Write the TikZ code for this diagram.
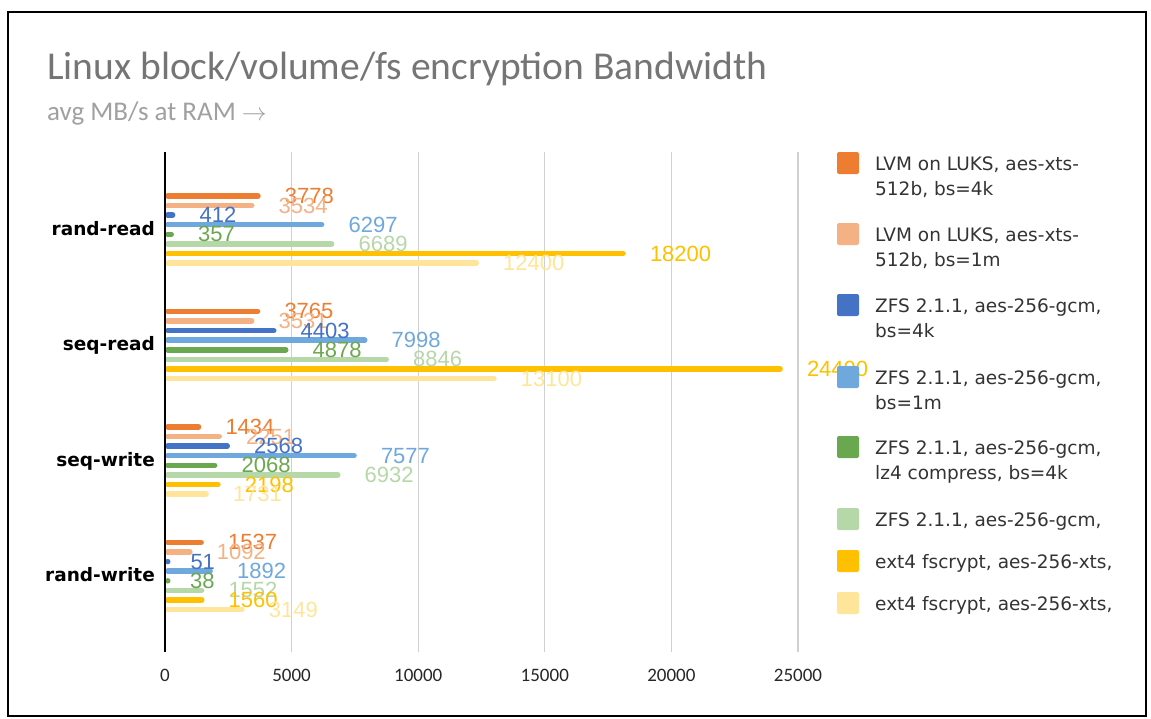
\documentclass[tikz,border=0pt]{standalone}
\usepackage{fontspec}
\setmainfont{Carlito}
\newfontfamily\legendfont{DejaVu Sans}
\newfontfamily\valfont{Liberation Sans}
\usetikzlibrary{positioning}
\usepackage{xcolor}
\definecolor{ser0}{HTML}{ED7D31}
\definecolor{ser1}{HTML}{F4B183}
\definecolor{ser2}{HTML}{4472C4}
\definecolor{ser3}{HTML}{6FA8DC}
\definecolor{ser4}{HTML}{6AA84F}
\definecolor{ser5}{HTML}{B6D7A8}
\definecolor{ser6}{HTML}{FFC000}
\definecolor{ser7}{HTML}{FFE599}
\definecolor{titlegray}{HTML}{757575}
\definecolor{subgray}{HTML}{A0A0A0}
\definecolor{gridgray}{HTML}{D0D0D0}

% MB/s -> tenths of a px (pgfmath cannot take 25000)
\newcommand{\mbtenths}[1]{\the\numexpr#1*2532/10000\relax}
\newcommand{\benchdata}{%
  rand-read/{3778,3534,412,6297,357,6689,18200,12400},
  seq-read/{3765,3531,4403,7998,4878,8846,24400,13100},
  seq-write/{1434,2251,2568,7577,2068,6932,2198,1731},
  rand-write/{1537,1092,51,1892,38,1552,1560,3149}}

\begin{document}
\begin{tikzpicture}[
  x=1pt, y=-1pt,
  charttitle/.style={font=\fontsize{39.5}{44}\selectfont, text=titlegray, inner sep=0, anchor=base west},
  subtitle/.style={font=\fontsize{27}{30}\selectfont, text=subgray, inner sep=0, anchor=base west},
  gridln/.style={draw=gridgray, line width=1.3pt},
  axisln/.style={draw=black, line width=1.3pt},
  bar/.style={line width=5.5pt, line cap=round},
  val/.style={font=\valfont\fontsize{22}{24}\selectfont, inner sep=0, anchor=west},
  cat/.style={font=\legendfont\bfseries\fontsize{18.5}{21}\selectfont, inner sep=0, anchor=base east},
  ticklbl/.style={font=\fontsize{19}{22}\selectfont, text=black!85, inner sep=0},
  legkey/.style={minimum size=22pt, inner sep=0, rounded corners=2pt},
  legtxt/.style={font=\legendfont\fontsize{18.5}{22}\selectfont, text=black!80, inner sep=0, anchor=base west},
]
\useasboundingbox (0,0) rectangle (1151,718);
\draw[line width=2pt] (8,12) rectangle (1146,716);

% Title
\node[charttitle] (title) at (47,79) {Linux block/volume/fs encryption Bandwidth};
\node[subtitle] (subtitle) at (47,120) {avg MB/s at RAM $\rightarrow$};

% Grid and x axis labels
\foreach \t in {0,5000,10000,15000,20000,25000} {
  \edef\tt{\mbtenths{\t}}
  \pgfmathsetmacro\tx{165+\tt/10}
  \ifnum\t>0 \draw[gridln] (\tx,152) -- (\tx,652); \fi
  \node[ticklbl] (tick\t) at (\tx,675) {\t};
}

% Bars
\foreach \cat/\vals [count=\i from 0] in \benchdata {
  \pgfmathsetmacro\cy{229.5+115.5*\i}
  \node[cat] (cat\i) at (155,\cy+5.5) {\cat};
  \foreach \v [count=\j from 0] in \vals {
    \edef\vt{\mbtenths{\v}}
    \pgfmathsetmacro\by{\cy+(\j-3.5)*9.6}
    \pgfmathsetmacro\bx{max(167.75,165+\vt/10-2.75)}
    \draw[bar, ser\j] (167.75,\by) -- (\bx,\by);
  }
}
\draw[axisln] (165,152) -- (165,652);

% Value labels
\foreach \cat/\vals [count=\i from 0] in \benchdata {
  \pgfmathsetmacro\cy{229.5+115.5*\i}
  \foreach \v [count=\j from 0] in \vals {
    \edef\vt{\mbtenths{\v}}
    \pgfmathsetmacro\by{\cy+(\j-3.5)*9.6}
    \pgfmathsetmacro\lx{165+\vt/10+24}
    \node[val, text=ser\j] (val\i-\j) at (\lx,\by) {\v};
  }
}

% Legend
\node[legkey, fill=ser0] (key0) at (848,163) {};
\node[legtxt] (leg0a) at (875,170) {LVM on LUKS, aes-xts-};
\node[legtxt] (leg0b) at ([yshift=-25pt]leg0a.base west) {512b, bs=4k};
\node[legkey, fill=ser1] (key1) at (848,234) {};
\node[legtxt] (leg1a) at (875,241) {LVM on LUKS, aes-xts-};
\node[legtxt] (leg1b) at ([yshift=-25pt]leg1a.base west) {512b, bs=1m};
\node[legkey, fill=ser2] (key2) at (848,305) {};
\node[legtxt] (leg2a) at (875,312) {ZFS 2.1.1, aes-256-gcm,};
\node[legtxt] (leg2b) at ([yshift=-25pt]leg2a.base west) {bs=4k};
\node[legkey, fill=ser3] (key3) at (848,377) {};
\node[legtxt] (leg3a) at (875,384) {ZFS 2.1.1, aes-256-gcm,};
\node[legtxt] (leg3b) at ([yshift=-25pt]leg3a.base west) {bs=1m};
\node[legkey, fill=ser4] (key4) at (848,447) {};
\node[legtxt] (leg4a) at (875,454) {ZFS 2.1.1, aes-256-gcm,};
\node[legtxt] (leg4b) at ([yshift=-25pt]leg4a.base west) {lz4 compress, bs=4k};
\node[legkey, fill=ser5] (key5) at (848,519) {};
\node[legtxt] (leg5a) at (875,526) {ZFS 2.1.1, aes-256-gcm,};
\node[legkey, fill=ser6] (key6) at (848,561) {};
\node[legtxt] (leg6a) at (875,568) {ext4 fscrypt, aes-256-xts,};
\node[legkey, fill=ser7] (key7) at (848,603) {};
\node[legtxt] (leg7a) at (875,610) {ext4 fscrypt, aes-256-xts,};

\end{tikzpicture}
\end{document}
